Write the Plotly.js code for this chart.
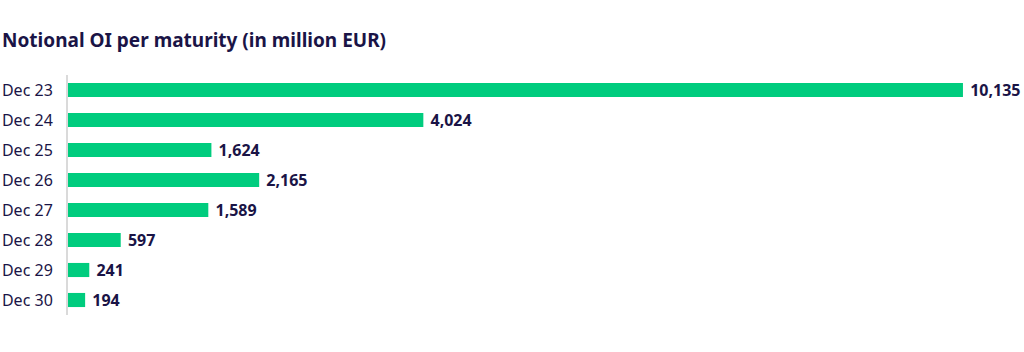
<!DOCTYPE html>
<html>
<head>
<meta charset="utf-8">
<script src="https://cdn.plot.ly/plotly-3.0.1.min.js"></script>
<style>html,body{margin:0;padding:0;background:#fff;}#chart{width:1024px;height:352px;}</style>
</head>
<body>
<div id="chart"></div>
<script>
const maturities = ["Dec 23","Dec 24","Dec 25","Dec 26","Dec 27","Dec 28","Dec 29","Dec 30"];
const notionalOI = [10135, 4024, 1624, 2165, 1589, 597, 241, 194];
const valueLabels = notionalOI.map(v => v.toLocaleString('en-US'));

const navy = '#1a1446';
const green = '#00cc7e';

const trace = {
  type: 'bar',
  orientation: 'h',
  y: maturities,
  x: notionalOI,
  text: valueLabels,
  texttemplate: '\u00a0%{text}',
  textposition: 'outside',
  constraintext: 'none',
  cliponaxis: false,
  textfont: {family: 'Noto Sans, sans-serif', size: 16, color: navy, weight: 'bold'},
  marker: {color: green},
  width: 0.47,
  hoverinfo: 'none'
};

const layout = {
  width: 1024, height: 352,
  margin: {l: 68, r: 10, t: 75, b: 37},
  paper_bgcolor: '#fff', plot_bgcolor: '#fff',
  showlegend: false,
  title: {
    text: '<b>Notional OI per maturity (in million EUR)</b>',
    font: {family: 'Noto Sans, sans-serif', size: 19, color: navy},
    x: 0.002, xref: 'container', xanchor: 'left',
    y: 0.884, yref: 'container', yanchor: 'middle'
  },
  xaxis: {range: [0, 10713], visible: false, showgrid: false, zeroline: false},
  yaxis: {
    autorange: 'reversed',
    showline: true, linecolor: '#dadada', linewidth: 2,
    showgrid: false, zeroline: false, ticks: '',
    ticklabelstandoff: 10,
    tickfont: {family: 'Noto Sans, sans-serif', size: 16, color: navy}
  }
};

Plotly.newPlot('chart', [trace], layout, {displayModeBar: false, staticPlot: true});
</script>
</body>
</html>
